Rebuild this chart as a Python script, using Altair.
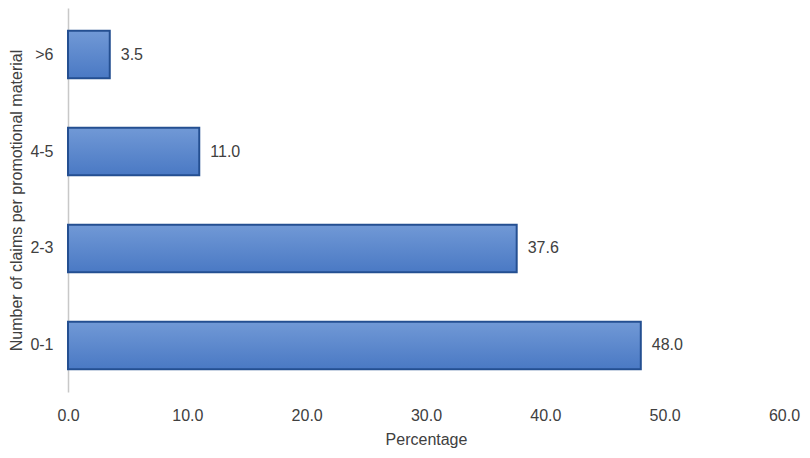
import altair as alt
import pandas as pd

categories = [">6", "4-5", "2-3", "0-1"]
values = [3.5, 11.0, 37.6, 48.0]
x_ticks = [0, 10, 20, 30, 40, 50, 60]

df = pd.DataFrame({"cat": categories, "val": values})

FONT = "Liberation Sans"
TXT = "#404040"
FS = 16

grad = alt.Gradient(
    gradient="linear",
    stops=[alt.GradientStop(color="#7199d6", offset=0),
           alt.GradientStop(color="#4a79c4", offset=1)],
    x1=0, x2=0, y1=0, y2=1,
)

y = alt.Y("cat:N", sort=categories, title="Number of claims per promotional material",
          scale=alt.Scale(paddingInner=0.51, paddingOuter=0.235),
          axis=alt.Axis(ticks=False, domainColor="#c8c8c8", domainWidth=1.5,
                        labelFontSize=FS, labelColor=TXT, labelFont=FONT, labelPadding=15,
                        titleFontSize=FS, titleColor=TXT, titleFont=FONT, titleFontWeight="normal",
                        titlePadding=5))
x = alt.X("val:Q", title="Percentage",
          scale=alt.Scale(domain=[0, 60], nice=False),
          axis=alt.Axis(values=x_ticks, format=".1f", grid=False, ticks=False, domain=False,
                        labelFlush=False,
                        labelFontSize=FS, labelColor=TXT, labelFont=FONT, labelPadding=15,
                        titleFontSize=FS, titleColor=TXT, titleFont=FONT, titleFontWeight="normal",
                        titlePadding=8))

bars = alt.Chart(df).mark_bar(fill=grad, stroke="#244f91", strokeWidth=2).encode(x=x, y=y)
labels = alt.Chart(df).mark_text(align="left", dx=11, fontSize=FS, font=FONT, color=TXT).encode(
    x="val:Q", y=alt.Y("cat:N", sort=categories), text=alt.Text("val:Q", format=".1f"))

chart = (bars + labels).properties(
    width=716, height=384,
    background="white",
    autosize=alt.AutoSizeParams(type="none"),
    padding={"left": 60, "top": 0, "right": 18, "bottom": 58},
).configure_view(strokeWidth=0, stroke="transparent")

chart.save("out.html", embed_options={"renderer": "svg", "actions": False})
